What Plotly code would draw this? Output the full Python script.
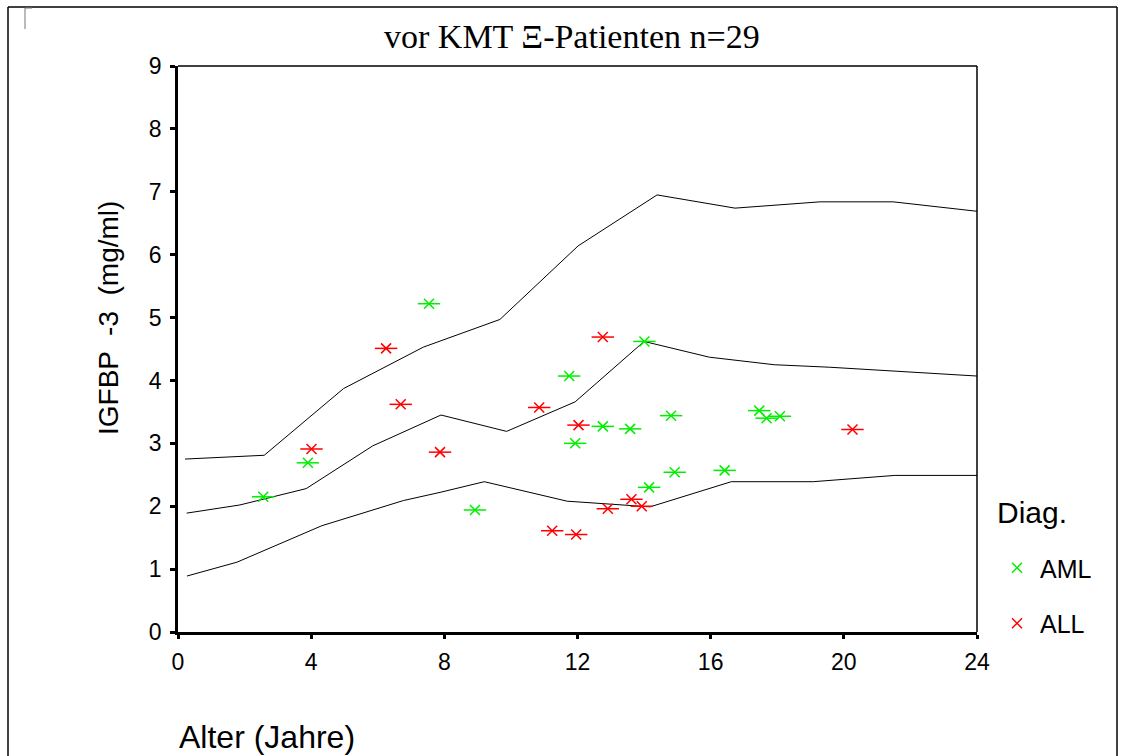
import plotly.graph_objects as go

# Reference curves (age in years, IGFBP-3 mg/ml)
upper_x = [0.21, 2.59, 4.97, 7.37, 9.67, 12.02, 14.39, 16.73, 19.29, 21.48, 24.0]
upper_y = [2.75, 2.81, 3.87, 4.53, 4.97, 6.14, 6.95, 6.74, 6.84, 6.84, 6.69]
mid_x = [0.26, 1.86, 3.85, 5.85, 7.90, 9.87, 11.93, 14.00, 15.96, 17.91, 19.58, 24.0]
mid_y = [1.89, 2.02, 2.28, 2.96, 3.45, 3.19, 3.66, 4.62, 4.37, 4.25, 4.21, 4.07]
low_x = [0.27, 1.77, 4.32, 6.77, 7.87, 9.20, 11.69, 14.18, 16.62, 19.08, 21.53, 24.0]
low_y = [0.89, 1.11, 1.69, 2.09, 2.22, 2.39, 2.08, 1.99, 2.39, 2.39, 2.49, 2.49]

# Patients
aml_x = [7.54, 3.90, 2.56, 8.92, 14.01, 11.75, 12.76, 13.58, 11.93, 14.81, 17.46, 17.68, 18.08, 14.92, 16.42, 14.15]
aml_y = [5.22, 2.69, 2.15, 1.94, 4.62, 4.07, 3.27, 3.23, 3.00, 3.44, 3.52, 3.40, 3.43, 2.54, 2.57, 2.30]
all_x = [6.25, 6.69, 4.01, 7.87, 12.76, 10.85, 12.03, 13.62, 13.93, 12.91, 11.24, 11.96, 20.26]
all_y = [4.51, 3.62, 2.91, 2.86, 4.69, 3.57, 3.29, 2.11, 2.00, 1.96, 1.61, 1.55, 3.22]

x_ticks = [0, 4, 8, 12, 16, 20, 24]
y_ticks = [0, 1, 2, 3, 4, 5, 6, 7, 8, 9]

GREEN = "#00ee00"
RED = "#ff0000"

fig = go.Figure()
for cx, cy in [(upper_x, upper_y), (mid_x, mid_y), (low_x, low_y)]:
    fig.add_trace(go.Scatter(x=cx, y=cy, mode="lines", line=dict(color="black", width=1),
                             showlegend=False, hoverinfo="skip"))

for name, xs, ys, col in [("AML", aml_x, aml_y, GREEN), ("ALL", all_x, all_y, RED)]:
    fig.add_trace(go.Scatter(x=xs, y=ys, mode="markers", name=name, legendgroup=name,
                             marker=dict(symbol="x-thin-open", size=10, color=col,
                                         line=dict(color=col, width=1.5))))
    fig.add_trace(go.Scatter(x=xs, y=ys, mode="markers", name=name, legendgroup=name,
                             showlegend=False,
                             marker=dict(symbol="line-ew-open", size=16, color=col,
                                         line=dict(color=col, width=1.5))))

W, H = 1123, 756
L, R, T, B = 178, 977, 66, 632
pw, ph = R - L, B - T


def px(xp):
    return (xp - L) / pw


def py(yp):
    return (B - yp) / ph


shapes = [
    # thin top and right frame of plot
    dict(type="line", xref="paper", yref="paper", x0=0, x1=1, y0=1, y1=1, line=dict(color="black", width=1.5)),
    dict(type="line", xref="paper", yref="paper", x0=1, x1=1, y0=0, y1=1, line=dict(color="black", width=1.5)),
    # outer border
    dict(type="line", xref="paper", yref="paper", x0=px(8), x1=px(1117), y0=py(7), y1=py(7), line=dict(color="black", width=1.5)),
    dict(type="line", xref="paper", yref="paper", x0=px(8), x1=px(8), y0=py(7), y1=py(770), line=dict(color="black", width=1.5)),
    dict(type="line", xref="paper", yref="paper", x0=px(1117), x1=px(1117), y0=py(7), y1=py(770), line=dict(color="black", width=1.5)),
    # small corner mark
    dict(type="line", xref="paper", yref="paper", x0=px(25), x1=px(25), y0=py(8), y1=py(29), line=dict(color="#777777", width=1)),
    dict(type="line", xref="paper", yref="paper", x0=px(25), x1=px(32), y0=py(8), y1=py(8), line=dict(color="#777777", width=1)),
]

annotations = [
    dict(text="vor KMT \u039e-Patienten n=29", xref="paper", yref="paper", x=px(572), y=py(36),
         xanchor="center", yanchor="middle", showarrow=False,
         font=dict(family="Liberation Serif", size=34, color="black")),
    dict(text="IGFBP  -3  (mg/ml)", xref="paper", yref="paper", x=px(108), y=py(318),
         xanchor="center", yanchor="middle", showarrow=False, textangle=-90,
         font=dict(family="Liberation Sans", size=28, color="black")),
    dict(text="Alter (Jahre)", xref="paper", yref="paper", x=px(177), y=py(737),
         xanchor="left", yanchor="middle", showarrow=False,
         font=dict(family="Liberation Sans", size=32, color="black")),
    dict(text="Diag.", xref="paper", yref="paper", x=px(995), y=py(512),
         xanchor="left", yanchor="middle", showarrow=False,
         font=dict(family="Liberation Sans", size=30, color="black")),
]

fig.update_layout(
    width=W, height=H,
    margin=dict(l=L, r=W - R, t=T, b=H - B, pad=0),
    paper_bgcolor="white", plot_bgcolor="white",
    shapes=shapes, annotations=annotations,
    showlegend=True,
    legend=dict(x=px(994), y=py(545), xanchor="left", yanchor="top",
                font=dict(family="Liberation Sans", size=25, color="black"),
                tracegroupgap=20, bgcolor="rgba(0,0,0,0)", itemwidth=36),
    xaxis=dict(range=[0, 24], tickvals=x_ticks, ticktext=[str(v) for v in x_ticks],
               showgrid=False, zeroline=False, showline=True, linecolor="black", linewidth=3,
               ticks="outside", ticklen=4, tickwidth=3, tickcolor="black", ticklabelstandoff=3,
               tickfont=dict(family="Liberation Sans", size=23, color="black")),
    yaxis=dict(range=[0, 9], tickvals=y_ticks, ticktext=[str(v) for v in y_ticks],
               showgrid=False, zeroline=False, showline=True, linecolor="black", linewidth=2.5,
               ticks="outside", ticklen=5, tickwidth=3, tickcolor="black", ticklabelstandoff=4,
               tickfont=dict(family="Liberation Sans", size=23, color="black")),
)

fig.write_html("out.html")
